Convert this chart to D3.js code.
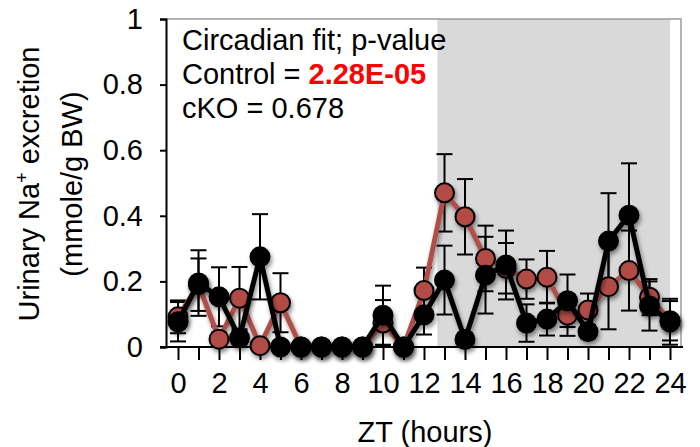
<!DOCTYPE html>
<html>
<head>
<meta charset="utf-8">
<script src="https://cdn.jsdelivr.net/npm/d3@7"></script>
<style>
  body { margin: 0; background: #fff; }
  svg { display: block; font-family: "Liberation Sans", Arial, sans-serif; }
</style>
</head>
<body>
<div id="chart"></div>
<script>
// ZT hours
const hours = d3.range(0, 25);
// Control (red) and cKO (black) means, mmole/g BW
const control = [0.092, 0.19, 0.024, 0.149, 0.004, 0.135, 0, 0, 0, 0, 0.073, 0, 0.172,
                 0.47, 0.397, 0.27, 0.24, 0.207, 0.213, 0.097, 0.113, 0.184, 0.233, 0.152, 0.08];
const controlErr = [0.05, 0.08, 0.02, 0.095, 0.004, 0.09, 0, 0, 0, 0, 0.07, 0, 0.07,
                    0.118, 0.115, 0.1, 0.077, 0.06, 0.08, 0.063, 0.05, 0.13, 0.122, 0.055, 0.06];
const cko = [0.077, 0.195, 0.153, 0.028, 0.275, 0, 0, 0, 0, 0, 0.097, 0, 0.098,
             0.204, 0.023, 0.219, 0.25, 0.073, 0.085, 0.141, 0.047, 0.323, 0.402, 0.125, 0.077];
const ckoErr = [0.06, 0.1, 0.09, 0.02, 0.13, 0, 0, 0, 0, 0, 0.09, 0, 0.06,
                0.105, 0.02, 0.117, 0.105, 0.057, 0.05, 0.08, 0.02, 0.146, 0.158, 0.075, 0.07];
const yTicks = [0, 0.2, 0.4, 0.6, 0.8, 1];
const xTickLabels = [0, 2, 4, 6, 8, 10, 12, 14, 16, 18, 20, 22, 24];
const darkPhase = [12.65, 24];

const w = 700, h = 447;
const fs = 29;
const svg = d3.select("#chart").append("svg").attr("width", w).attr("height", h);

const x = d3.scaleLinear().domain([0, 24]).range([178, 670]);
const y = d3.scaleLinear().domain([0, 1]).range([347, 19]);

const defs = svg.append("defs");
const f = defs.append("filter").attr("id", "shadow")
  .attr("x", "-20%").attr("y", "-20%").attr("width", "140%").attr("height", "140%");
f.append("feDropShadow").attr("dx", 1.5).attr("dy", 3).attr("stdDeviation", 2)
  .attr("flood-color", "#000").attr("flood-opacity", 0.45);

// dark phase shading
svg.append("rect")
   .attr("x", x(darkPhase[0]))
   .attr("y", y(1))
   .attr("width", x(darkPhase[1]) - x(darkPhase[0]))
   .attr("height", y(0) - y(1))
   .attr("fill", "#d9d9d9");

// plot frame (top, right)
svg.append("path")
   .attr("d", `M165,${y(1)}H681V${y(0)}`)
   .attr("fill", "none").attr("stroke", "#9a9a9a").attr("stroke-width", 1.5);

// y axis
const yAxis = d3.axisLeft(y).tickValues(yTicks).tickFormat(d3.format("")).tickSize(6).tickPadding(17);
const gy = svg.append("g").attr("transform", "translate(166,0)").call(yAxis);
gy.select(".domain").attr("stroke-width", 2);
gy.selectAll(".tick line").attr("stroke-width", 2);
gy.selectAll("text").attr("font-size", fs).attr("font-family", "Liberation Sans, Arial, sans-serif").attr("fill", "#000");

// x axis
const xAxis = d3.axisBottom(x).tickValues(hours).tickSize(13).tickSizeOuter(0)
  .tickFormat(d => xTickLabels.includes(d) ? d : "").tickPadding(12);
const gx = svg.append("g").attr("transform", `translate(0,${y(0)})`).call(xAxis);
gx.select(".domain").attr("d", `M${160},0H${683}`).attr("stroke-width", 2);
gx.selectAll(".tick line").attr("stroke-width", 2);
gx.selectAll("text").attr("font-size", fs).attr("font-family", "Liberation Sans, Arial, sans-serif").attr("fill", "#000");

// axis titles
svg.append("text")
   .attr("x", 425).attr("y", 442)
   .attr("text-anchor", "middle").attr("font-size", fs)
   .text("ZT (hours)");

const yl = svg.append("text")
   .attr("transform", "translate(39,184) rotate(-90)")
   .attr("text-anchor", "middle").attr("font-size", fs);
yl.append("tspan").text("Urinary Na");
yl.append("tspan").attr("font-size", 18).attr("dy", -11).text("+");
yl.append("tspan").attr("dy", 11).text(" excretion");
svg.append("text")
   .attr("transform", "translate(82,184) rotate(-90)")
   .attr("text-anchor", "middle").attr("font-size", fs)
   .text("(mmole/g BW)");

// annotation
svg.append("text").attr("x", 182).attr("y", 50).attr("font-size", fs).text("Circadian fit; p-value");
const l2 = svg.append("text").attr("x", 182).attr("y", 84).attr("font-size", fs);
l2.append("tspan").text("Control = ");
l2.append("tspan").attr("fill", "#ff0000").attr("font-weight", "bold").text("2.28E-05");
svg.append("text").attr("x", 182).attr("y", 118).attr("font-size", fs).text("cKO = 0.678");

// series
const series = [
  { vals: control, err: controlErr, line: "#b0504a", fill: "#b24c45" },
  { vals: cko, err: ckoErr, line: "#000", fill: "#000" }
];

// error bars first
series.forEach(s => {
  const g = svg.append("g").attr("stroke", "#000").attr("stroke-width", 2);
  hours.forEach((hr, i) => {
    if (s.err[i] <= 0) return;
    const lo = Math.max(0, s.vals[i] - s.err[i]), hi = s.vals[i] + s.err[i];
    g.append("line").attr("x1", x(hr)).attr("x2", x(hr)).attr("y1", y(lo)).attr("y2", y(hi));
    [lo, hi].forEach(v => g.append("line")
      .attr("x1", x(hr) - 8).attr("x2", x(hr) + 8).attr("y1", y(v)).attr("y2", y(v)));
  });
});

const line = d3.line().x((d, i) => x(hours[i])).y(d => y(d));
series.forEach(s => {
  const g = svg.append("g").attr("filter", "url(#shadow)");
  g.append("path").datum(s.vals).attr("d", line)
   .attr("fill", "none").attr("stroke", s.line).attr("stroke-width", 5)
   .attr("stroke-linejoin", "round");
  g.selectAll("circle").data(s.vals).join("circle")
   .attr("cx", (d, i) => x(hours[i])).attr("cy", d => y(d)).attr("r", 9.5)
   .attr("fill", s.fill).attr("stroke", "#000").attr("stroke-width", 2);
});
</script>
</body>
</html>
